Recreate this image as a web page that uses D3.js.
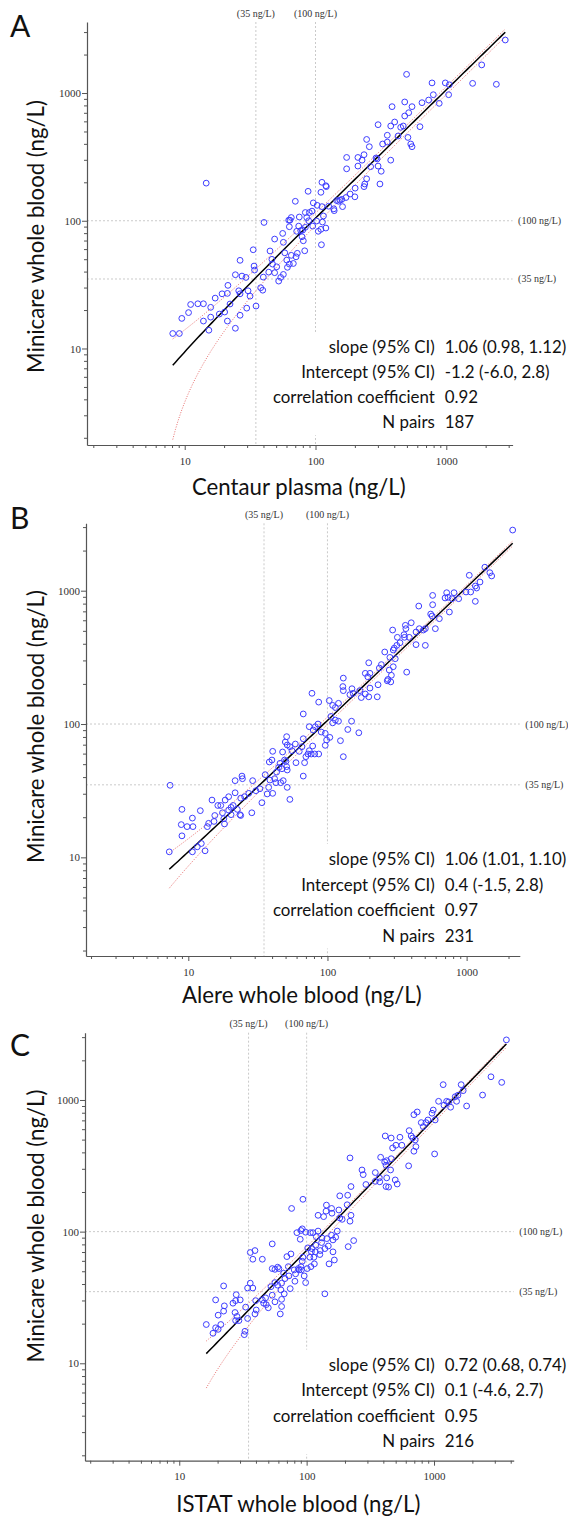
<!DOCTYPE html>
<html>
<head>
<meta charset="utf-8">
<style>
  body { margin: 0; background: #fff; }
  svg { display: block; }
  text { font-family: Lato, "Open Sans", sans-serif; fill: #111; }
  .tick text, .ref-label { font-family: "Liberation Serif", "DejaVu Serif", serif; fill: #333; }
  .ref { stroke: #bdbdbd; stroke-width: 0.8; stroke-dasharray: 2,2; }
  .domain, .tick line { stroke: #555; }
</style>
</head>
<body>
<div id="viz_area"></div>
<script src="https://d3js.org/d3.v7.min.js"></script>
<script>
// ---- chart values ----
var panelLetters = ["A", "B", "C"];
var xTitles = ["Centaur plasma (ng/L)", "Alere whole blood (ng/L)", "ISTAT whole blood (ng/L)"];
var yTitle = "Minicare whole blood (ng/L)";
var refValues = [35, 100];
var refLabels = ["(35 ng/L)", "(100 ng/L)"];
var majorTicks = [10, 100, 1000];
var statLabels = ["slope (95% CI)", "Intercept (95% CI)", "correlation coefficient", "N pairs"];
var statsA = ["1.06 (0.98, 1.12)", "-1.2 (-6.0, 2.8)", "0.92", "187"];
var statsB = ["1.06 (1.01, 1.10)", "0.4 (-1.5, 2.8)", "0.97", "231"];
var statsC = ["0.72 (0.68, 0.74)", "0.1 (-4.6, 2.7)", "0.95", "216"];
// [slope, slope low, slope high, intercept, intercept low, intercept high]
var fitA = [1.06, 0.98, 1.12, -1.2, -6.0, 2.8];
var fitB = [1.06, 1.01, 1.10, 0.4, -1.5, 2.8];
var fitC = [0.72, 0.68, 0.74, 0.1, -4.6, 2.7];

var pointsA = [[14.6,197],[8.1,13.1],[9.1,13.1],[9.5,17.2],[10.7,19.1],[11.1,22.1],[12.6,22.4],[13.9,22.4],[15.8,21],[17.1,24.8],[19.3,26.8],[21.4,31.2],[21.2,27],[13.9,16.4],[15.8,17.6],[15.3,13.9],[18.4,18.6],[20.2,19.3],[21.2,16.4],[22.2,22.3],[24.4,14.4],[24.4,37.8],[27.4,36.9],[29.4,36],[26.5,49],[25.9,28.3],[26.5,26.8],[30.5,28.3],[31.6,25.7],[26.5,18.2],[29.8,20.7],[35.1,21.5],[33.4,59.3],[33.9,44.2],[34.2,41.1],[39.9,36.2],[38.1,29.9],[39.5,28.6],[40.4,97],[44.9,58],[48.7,71.9],[56.1,79.6],[56.8,67.8],[62.4,101],[46.4,49.9],[46.9,45.8],[50.5,43.6],[52.3,33.7],[54.2,36],[56.8,38],[48.7,39.2],[43.9,39.6],[58.2,56.1],[60.3,49.2],[61,43.2],[63.1,45.8],[65.3,53.6],[67.7,46.3],[71,52.2],[72.6,55.6],[63.1,89.8],[63.8,101],[65.3,106],[71.8,82.7],[74.4,90.8],[75.2,107],[77.1,83.6],[70.1,142],[87.8,170],[83.6,116],[85.7,106],[89.7,116],[96.2,138],[94,119],[80.7,69.7],[82.7,58.2],[78.9,75],[79.9,84.6],[83.6,88.8],[88.7,100],[95.2,90.8],[102,99.5],[105,82.7],[110,85.7],[111,64.9],[113,97.7],[115,109],[120,87.7],[110,167],[112,200],[120,188],[121,185],[103,132],[112,129],[126,130],[138,124],[139,120],[145,144],[150,142],
  [497,1400],[778,1200],[983,1200],[1054,1160],[1042,970],[883,830],[796,970],[733,881],[652,840],[1590,1190],[481,851],[547,782],[516,701],[481,661],[385,782],[403,593],[376,552],[448,539],[469,552],[629,545],[301,565],[354,467],[428,461],[509,449],[246,433],[258,380],[326,399],[354,413],[535,399],[547,380],[173,313],[211,313],[235,329],[227,298],[211,268],[173,255],[290,310],[296,305],[301,268],[318,244],[264,265],[376,298],[246,213],[238,194],[235,185],[201,180],[311,194],[184,162],[200,154],[154,145],[159,147],[171,152],[161,129],
  [2825,2600],[1866,1660],[2415,1170]];

var pointsB = [[7.4,34.7],[7.3,11],[9,22.9],[8.9,17.6],[9,14.5],[9.8,17],[10.8,17],[10.7,19.7],[12.2,22.4],[10.7,11],[11.6,12],[12.4,12.7],[13.2,11.2],[13.7,17],[14,18],[15.3,18.6],[15.5,20.6],[14.8,26.9],[16.3,24.5],[17.1,24.5],[18.4,26.9],[19.5,28.5],[17.6,21.6],[18,19.5],[18.2,17.8],[19.5,22.6],[20.3,23.7],[20.3,20.9],[21,24.5],[22.5,22.9],[23.5,20.9],[21.7,30.5],[21.7,37.6],[24.3,40.7],[24.5,38.9],[29,37.6],[23.8,27.8],[25.4,28.5],[27.2,30.2],[28.6,21.6],[23.8,20.6],[30.6,31.6],[32.7,32.7],[33.8,25.7],[35.7,41.7],[36.9,29.9],[37.8,33.5],[40.4,30.2],[38.2,51.9],[39.9,53.7],[40.4,62.4],[38.6,38],[41.7,38.9],[42.6,36.3],[43.1,43.6],[44.6,47.3],[45.6,50.7],[47.1,46.2],[47.6,61.7],[49.2,53.7],[50.3,52.5],[50.9,47.9],[51.4,45.2],[46.1,36.3],[48.1,37.6],[51.4,33.5],[53.7,27.2],[50.9,80.4],[49.8,73.3],[51.4,69.6],[53.7,67.6],[58.8,70.8],[59.4,51.3],[55.6,63.1],[62.7,62.4],[65.6,67.6],[67,77.6],[68.5,51.3],[67,40.7],[70,56.9],[72.4,59.6],[74,63.1],[76.5,59.6],[80.9,59.6],[86.5,59.6],[78.3,68.4],[67,119],[74,95.5],[79,90.2],[81.7,95.5],[85.5,100],[90.2,87.1],[96.4,85.1],[98.6,75.9],[104,79.4],[96.4,69.2],[77.4,170],[86.5,146],[103,150],[109,138],[114,133],[120,143],[106,114],[109,102],[114,107],[120,105],
  [1045,1305],[1155,1084],[1180,1047],[1155,832],[1248,1162],[1069,978],[990,978],[812,966],[719,966],[735,892],[700,882],[786,871],[877,871],[752,692],[570,922],[570,785],[453,767],[552,668],[565,646],[637,617],[596,519],[294,507],[363,550],[400,575],[366,519],[355,468],[358,447],[387,447],[433,490],[457,519],[489,507],[505,519],[433,394],[505,389],[332,407],[318,447],[258,347],[281,316],[307,309],[297,359],[315,389],[302,371],[198,288],[244,279],[236,263],[278,254],[297,269],[288,232],[272,216],[285,207],[269,211],[371,245],[187,240],[202,240],[195,226],[130,221],[129,191],[130,178],[150,184],[153,170],[145,166],[171,178],[175,158],[187,168],[198,160],[202,186],[231,197],[228,160],
  [2143,2850],[1352,1500],[1469,1365],[1514,1290],[124,75],[130,56.9],[168,86],[140,91],[149,105]];

var pointsC = [[16.3,19.7],[18.4,16.9],[19.3,18.6],[20.2,18.1],[21.2,19.7],[19.3,30.3],[20.2,23.2],[22.3,24.9],[22.6,27.3],[22.3,38.7],[26.4,28.6],[27.7,29.9],[28,33.2],[30.1,30.3],[27.4,24.3],[28.4,22.7],[27.7,21.1],[29.4,21.1],[33.2,26.7],[32.8,17.5],[32.4,16.5],[34.4,21.9],[34.4,37.3],[36.1,40.6],[37.8,37.3],[39.8,29.9],[39.3,23.7],[40.2,25.4],[44.9,30.3],[46,28.6],[47.6,31.4],[48.2,27.9],[50,26.4],[53.7,32.9],[56.4,29.3],[63.6,30.6],[63.6,27],[66.7,33.7],[62.1,23.7],[36.1,69.4],[37.8,61.7],[44.9,61.7],[39.3,71.8],[53.7,80.7],[52.5,38.2],[53.7,52.4],[56.4,51.7],[59.2,53.7],[60.6,52.4],[56.4,41],[59.2,39.2],[62.8,36.1],[63.6,40.6],[66,48.3],[67.6,44],[70,64.6],[71.8,54.2],[75.3,67.7],[72.6,46.1],[74.3,36.9],[79.9,51.2],[80.9,42],[81.9,47.8],[83.9,98.2],[86,52.4],[87.3,51.2],[90.2,54.2],[91,51.2],[92.4,59.6],[93.5,63.9],[95.7,46.1],[98.2,41],[89.1,87.5],[90.2,102],[92.4,105],[76.2,150],[93.5,176],[102,75.2],[101,52.4],[106,63.9],[108,54.2],[109,70.2],[110,74.3],[114,63.9],[115,56.9],[117,70.2],[118,78.9],[128,71.8],[127,67],[131,82.6],[139,74.3],[139,33.7],[98.2,99],[107,98.2],[112,98.2],[119,91.6],[123,101],[132,89.5],[144,88.5],[123,133],[136,130],[143,159],[142,143],[157,150],[158,138],[179,146],[182,187],[210,189],[223,220],[208,160],[190,124],[223,133],[219,120],[148,77.8],[161,86.5],[157,93.9],[169,90.7],[174,101],[161,70.2],[165,60.9],[150,56.9],[212,76.9],[234,85.5],[182,127],
  [1633,1307],[1180,1307],[1694,1177],[1541,1086],[1504,977],[1803,900],[1086,977],[1197,912],[1256,977],[1303,966],[1350,881],[1467,1059],[986,839],[964,793],[1021,705],[896,705],[864,673],[794,673],[823,627],[695,773],[738,811],[1011,389],[638,585],[662,533],[712,497],[680,514],[721,442],[695,408],[540,521],[559,453],[502,453],[473,432],[414,533],[461,514],[632,316],[461,358],[425,346],[381,367],[410,338],[420,319],[456,294],[219,363],[272,294],[278,271],[346,281],[372,256],[346,241],[375,239],[425,256],[496,247],[514,230],[420,220],[440,218],[292,228],
  [3700,2860],[2800,1500],[3400,1360],[2405,1090]];

// ---- layout ----
var panels = [
  {pts: pointsA, stats: statsA, fit: fitA, left: 87, right: 512.6, top: 22, bottom: 445,
   xDom: [1.79, 3214], yDom: [1.756, 3597], letterY: 36.7, xTitleY: 495, yTitleY: 236.5, statY: 353.3, statStep: 25},
  {pts: pointsB, stats: statsB, fit: fitB, left: 86, right: 519.8, top: 523.3, bottom: 956,
   xDom: [1.84, 2411], yDom: [1.82, 3203], letterY: 529.3, xTitleY: 1003, yTitleY: 726.5, statY: 865, statStep: 25.5},
  {pts: pointsC, stats: statsC, fit: fitC, left: 85, right: 513.7, top: 1032.7, bottom: 1460.7,
   xDom: [1.82, 4222], yDom: [1.82, 3243], letterY: 1056, xTitleY: 1512, yTitleY: 1226, statY: 1370.6, statStep: 25.5}
];

var svg = d3.select("#viz_area").append("svg")
    .attr("width", 568).attr("height", 1518);

// font sizes chosen so text widths match the reference
function sizeFor(str, family, target) {
  var t = svg.append("text").attr("font-family", family).attr("font-size", 20).text(str);
  var w = t.node().getComputedTextLength();
  t.remove();
  return 20 * target / w;
}
var titleSize = sizeFor(yTitle, "Lato", 273);
var statSize = sizeFor(statLabels[2], "Lato", 162);

function logTicks(dom) {
  var t = [];
  for (var e = 0; e < 5; e++)
    for (var m = 1; m < 10; m++) {
      var v = m * Math.pow(10, e);
      if (v >= dom[0] && v <= dom[1]) t.push(v);
    }
  return t;
}

panels.forEach(function(p, i) {
  var x = d3.scaleLog().domain(p.xDom).range([p.left, p.right]);
  var y = d3.scaleLog().domain(p.yDom).range([p.bottom, p.top]);
  var g = svg.append("g");

  // dashed reference lines at 35 and 100 ng/L
  refValues.forEach(function(v, k) {
    g.append("line").attr("class", "ref")
      .attr("x1", x(v)).attr("x2", x(v)).attr("y1", p.top).attr("y2", p.bottom);
    g.append("line").attr("class", "ref")
      .attr("x1", p.left).attr("x2", p.right).attr("y1", y(v)).attr("y2", y(v));
    g.append("text").attr("class", "ref-label")
      .attr("x", x(v)).attr("y", p.top - 5.5).attr("text-anchor", "middle")
      .attr("font-size", 10).text(refLabels[k]);
    g.append("text").attr("class", "ref-label")
      .attr("x", p.right + 5.5).attr("y", y(v) + 3.5)
      .attr("font-size", 10).text(refLabels[k]);
  });

  // statistics block (white box hides the reference line behind it)
  var labelRight = 434.8;
  g.append("rect")
    .attr("x", labelRight - 168).attr("y", p.statY - 21)
    .attr("width", p.right - labelRight + 168).attr("height", p.statStep * 3 + 28)
    .attr("fill", "#fff");
  statLabels.forEach(function(s, k) {
    g.append("text").attr("x", labelRight).attr("y", p.statY + k * p.statStep)
      .attr("text-anchor", "end").attr("font-size", statSize).text(s);
    g.append("text").attr("x", labelRight + 10).attr("y", p.statY + k * p.statStep)
      .attr("font-size", statSize).text(p.stats[k]);
  });

  // regression line and confidence band
  var ext = d3.extent(p.pts, function(d) { return d[0]; });
  var xs = d3.range(0, 121).map(function(k) { return ext[0] * Math.pow(ext[1] / ext[0], k / 120); });
  var f = p.fit;
  var line = d3.line().x(function(d) { return x(d[0]); }).y(function(d) { return y(d[1]); });
  g.append("path").datum(xs.map(function(v) { return [v, f[5] + f[2] * v]; }))
    .attr("d", line).attr("fill", "none").attr("stroke", "#e8706f")
    .attr("stroke-width", 1).attr("stroke-dasharray", "1,1.5");
  g.append("path").datum(xs.map(function(v) { return [v, f[4] + f[1] * v]; }))
    .attr("d", line).attr("fill", "none").attr("stroke", "#e8706f")
    .attr("stroke-width", 1).attr("stroke-dasharray", "1,1.5");
  g.append("path").datum(xs.map(function(v) { return [v, f[3] + f[0] * v]; }))
    .attr("d", line).attr("fill", "none").attr("stroke", "#000").attr("stroke-width", 1.5);

  // points
  g.selectAll("circle.pt").data(p.pts).enter().append("circle")
    .attr("class", "pt")
    .attr("cx", function(d) { return x(d[0]); })
    .attr("cy", function(d) { return y(d[1]); })
    .attr("r", 2.9).attr("fill", "none").attr("stroke", "#3d3dff").attr("stroke-width", 1);

  // axes
  var isMajor = function(d) { return majorTicks.indexOf(d) >= 0; };
  var fmt = function(d) { return isMajor(d) ? d : ""; };
  var ya = g.append("g").attr("transform", "translate(" + p.left + ",0)")
    .call(d3.axisLeft(y).tickValues(logTicks(p.yDom)).tickSize(3).tickSizeOuter(0).tickPadding(3).tickFormat(fmt));
  ya.selectAll(".tick line").attr("x2", function(d) { return isMajor(d) ? -5 : -3; });
  ya.selectAll(".tick text").attr("font-size", 11);
  var xa = g.append("g").attr("transform", "translate(0," + p.bottom + ")")
    .call(d3.axisBottom(x).tickValues(logTicks(p.xDom)).tickSize(3).tickSizeOuter(0).tickPadding(9).tickFormat(fmt));
  xa.selectAll(".tick line").attr("y2", function(d) { return isMajor(d) ? 5 : 3; });
  xa.selectAll(".tick text").attr("font-size", 11);
  g.selectAll(".domain").attr("stroke-width", 1.2);

  // titles
  g.append("text").attr("x", (p.left + p.right) / 2 - 1).attr("y", p.xTitleY)
    .attr("text-anchor", "middle").attr("font-size", titleSize).text(xTitles[i]);
  g.append("text").attr("transform", "translate(44," + p.yTitleY + ") rotate(-90)")
    .attr("text-anchor", "middle").attr("font-size", titleSize).text(yTitle);
  g.append("text").attr("x", 10).attr("y", p.letterY)
    .attr("font-size", 30).text(panelLetters[i]);
});
</script>
</body>
</html>
